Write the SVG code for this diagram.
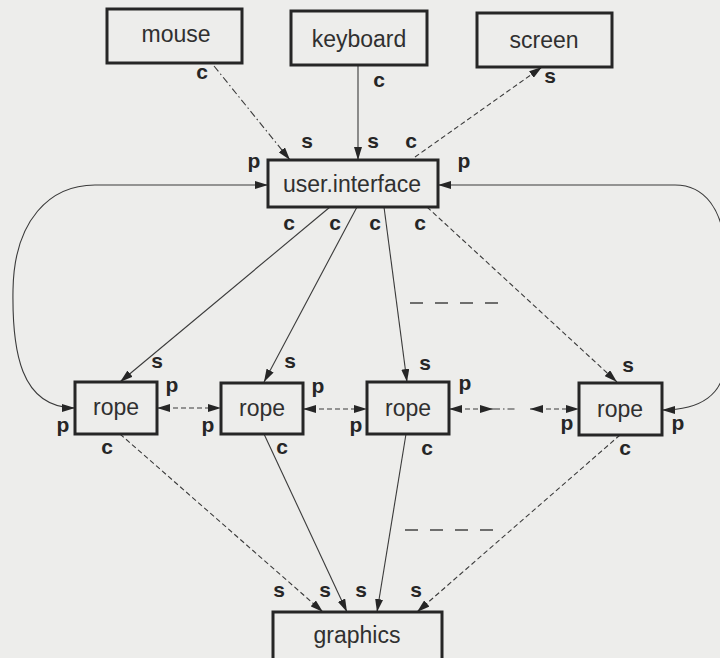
<svg xmlns="http://www.w3.org/2000/svg" width="720" height="658" viewBox="0 0 720 658">
  <style>
    .box { fill: none; stroke: #262626; stroke-width: 3; }
    .name { font-family: "Liberation Sans", Arial, sans-serif; font-size: 23px; fill: #303030; text-anchor: middle; }
    .port { font-family: "Liberation Sans", Arial, sans-serif; font-size: 21px; font-weight: bold; fill: #262626; text-anchor: middle; }
    .ln { fill: none; stroke: #3a3a3a; stroke-width: 1.1; }
    .dash { stroke-dasharray: 5 3; }
    .dashdot { stroke-dasharray: 7 3 1.5 3; }
    .arr { marker-end: url(#head); }
    .both { marker-start: url(#head); marker-end: url(#head); }
    .more { fill: none; stroke: #444; stroke-width: 1.3; stroke-dasharray: 13 12; }
  </style>
  <defs>
    <marker id="head" viewBox="0 0 13 8" refX="13" refY="4" markerWidth="13" markerHeight="8" markerUnits="userSpaceOnUse" orient="auto-start-reverse">
      <path d="M0,0 L13,4 L0,8 z" fill="#262626"/>
    </marker>
  </defs>

  <rect x="0" y="0" width="720" height="658" fill="#ededeb"/>

  <!-- connectors -->
  <g id="connectors">
    <path class="ln dashdot arr" d="M214 66 L290 160"/>
    <path class="ln arr" d="M358 65 L358 160"/>
    <path class="ln dash arr" d="M415 157 L542 67"/>

    <!-- feedback loops to user.interface -->
    <path class="ln both" d="M268 185 H95 C50 185 14 220 13 290 C12 350 20 408 75 408"/>
    <path class="ln both" d="M438 185 H675 C705 185 723 210 725 250 V360 C725 395 700 410 662 410"/>

    <!-- user.interface to ropes -->
    <path class="ln arr" d="M330 207 L120 382"/>
    <path class="ln arr" d="M357 207 L264 382"/>
    <path class="ln arr" d="M384 207 L407 382"/>
    <path class="ln dash arr" d="M427 207 L617 382"/>

    <!-- rope chain -->
    <path class="ln dash both" d="M157 408 L221 408"/>
    <path class="ln dash both" d="M303 409 L367 409"/>
    <path class="ln dash both" d="M449 409 L493 409"/>
    <path class="ln dashdot" d="M493 409 L517 409"/>
    <path class="ln dash both" d="M530 409 L579 409"/>

    <!-- ropes to graphics -->
    <path class="ln dash arr" d="M120 434 L323 612"/>
    <path class="ln arr" d="M264 434 L347 612"/>
    <path class="ln arr" d="M406 434 L377 612"/>
    <path class="ln dash arr" d="M620 435 L417 612"/>

    <!-- elided ropes -->
    <path class="more" d="M410 303 H503"/>
    <path class="more" d="M405 530 H498"/>
  </g>

  <g id="mouse">
    <rect class="box" x="107" y="9" width="135" height="54"/>
    <text class="name" x="176" y="42">mouse</text>
    <text class="port" x="202" y="79">c</text>
  </g>

  <g id="keyboard">
    <rect class="box" x="291" y="11" width="136" height="54"/>
    <text class="name" x="359" y="47">keyboard</text>
    <text class="port" x="379" y="87">c</text>
  </g>

  <g id="screen">
    <rect class="box" x="477" y="13" width="135" height="54"/>
    <text class="name" x="544" y="48">screen</text>
    <text class="port" x="550" y="83">s</text>
  </g>

  <g id="user.interface">
    <rect class="box" x="268" y="160" width="170" height="47"/>
    <text class="name" x="352" y="192">user.interface</text>
    <text class="port" x="307" y="148">s</text>
    <text class="port" x="373" y="148">s</text>
    <text class="port" x="411" y="148">c</text>
    <text class="port" x="254" y="168">p</text>
    <text class="port" x="464" y="168">p</text>
    <text class="port" x="289" y="230">c</text>
    <text class="port" x="335" y="230">c</text>
    <text class="port" x="375" y="230">c</text>
    <text class="port" x="420" y="230">c</text>
  </g>

  <g id="rope1">
    <rect class="box" x="75" y="382" width="82" height="52"/>
    <text class="name" x="116" y="415">rope</text>
    <text class="port" x="157" y="368">s</text>
    <text class="port" x="172" y="392">p</text>
    <text class="port" x="63" y="432">p</text>
    <text class="port" x="107" y="454">c</text>
  </g>

  <g id="rope2">
    <rect class="box" x="221" y="383" width="82" height="51"/>
    <text class="name" x="262" y="416">rope</text>
    <text class="port" x="290" y="368">s</text>
    <text class="port" x="318" y="393">p</text>
    <text class="port" x="208" y="432">p</text>
    <text class="port" x="282" y="454">c</text>
  </g>

  <g id="rope3">
    <rect class="box" x="367" y="382" width="82" height="52"/>
    <text class="name" x="408" y="416">rope</text>
    <text class="port" x="425" y="370">s</text>
    <text class="port" x="465" y="390">p</text>
    <text class="port" x="356" y="432">p</text>
    <text class="port" x="427" y="455">c</text>
  </g>

  <g id="rope4">
    <rect class="box" x="579" y="383" width="83" height="52"/>
    <text class="name" x="620" y="417">rope</text>
    <text class="port" x="628" y="372">s</text>
    <text class="port" x="567" y="430">p</text>
    <text class="port" x="678" y="430">p</text>
    <text class="port" x="625" y="455">c</text>
  </g>

  <g id="graphics">
    <rect class="box" x="273" y="612" width="169" height="52"/>
    <text class="name" x="357" y="643">graphics</text>
    <text class="port" x="279" y="597">s</text>
    <text class="port" x="325" y="597">s</text>
    <text class="port" x="361" y="597">s</text>
    <text class="port" x="416" y="597">s</text>
  </g>
</svg>
